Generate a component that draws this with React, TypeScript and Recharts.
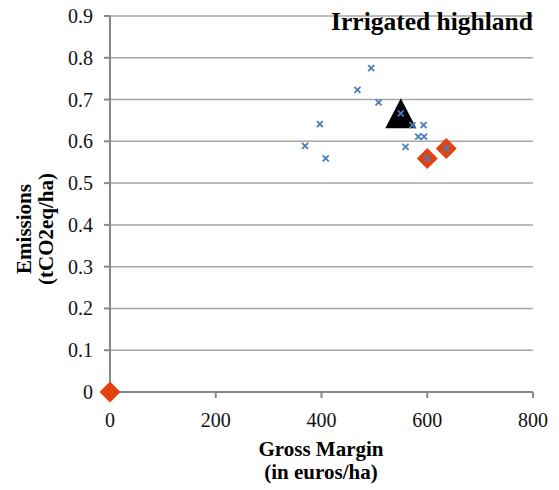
import React from 'react';
import { ScatterChart, Scatter, XAxis, YAxis, CartesianGrid, Customized } from 'recharts';

// gross margin (euros/ha) vs emissions (tCO2eq/ha)
const farmMargins = [369, 397, 408, 468, 494, 508, 550, 572, 593, 583, 594, 559, 600, 636];
const farmEmissions = [0.589, 0.641, 0.559, 0.723, 0.775, 0.693, 0.667, 0.639, 0.639, 0.611, 0.611, 0.587, 0.559, 0.583];

const frontierMargins = [0, 600, 636];
const frontierEmissions = [0, 0.559, 0.583];

const averageMargins = [550];
const averageEmissions = [0.667];

const xTicks = [0, 200, 400, 600, 800];
const yTicks = [0, 0.1, 0.2, 0.3, 0.4, 0.5, 0.6, 0.7, 0.8, 0.9];

const title = 'Irrigated highland';
const xTitle = ['Gross Margin', '(in euros/ha)'];
const yTitle = ['Emissions', '(tCO2eq/ha)'];

const toPoints = (xs: number[], ys: number[]) => xs.map((x, i) => ({ x, y: ys[i] }));

const farms = toPoints(farmMargins, farmEmissions);
const frontier = toPoints(frontierMargins, frontierEmissions);
const average = toPoints(averageMargins, averageEmissions);

const SERIF = '"Liberation Serif", "Times New Roman", serif';
const BLUE = '#4a7ebb';
const RED = '#e2420f';

const XMark = (props: any) => {
  const { cx, cy } = props;
  const r = 3;
  return (
    <g stroke={BLUE} strokeWidth={1.8}>
      <line x1={cx - r} y1={cy - r} x2={cx + r} y2={cy + r} />
      <line x1={cx - r} y1={cy + r} x2={cx + r} y2={cy - r} />
    </g>
  );
};

const Diamond = (props: any) => {
  const { cx, cy } = props;
  const r = 10.5;
  return <polygon points={`${cx},${cy - r} ${cx + r},${cy} ${cx},${cy + r} ${cx - r},${cy}`} fill={RED} />;
};

const Triangle = (props: any) => {
  const { cx, cy } = props;
  const w = 15.5, h = 15;
  return <polygon points={`${cx},${cy - h} ${cx + w},${cy + h} ${cx - w},${cy + h}`} fill="#000" />;
};

const tickText = { fontFamily: SERIF, fontSize: 20, fill: '#111' };

const XTick = (props: any) => {
  const { x, y, payload } = props;
  return (
    <text x={x} y={y + 14} textAnchor="middle" style={tickText}>
      {String(payload.value)}
    </text>
  );
};

const YTick = (props: any) => {
  const { x, y, payload } = props;
  const v = payload.value as number;
  return (
    <text x={x} y={y + 7} textAnchor="end" style={tickText}>
      {v === 0 ? '0' : v.toFixed(1)}
    </text>
  );
};

const Titles = () => (
  <g style={{ fontFamily: SERIF, fontWeight: 'bold' }} fill="#000">
    <text x={533} y={30} fontSize={25.5} textAnchor="end">{title}</text>
    <text x={321} y={456} fontSize={21} textAnchor="middle">{xTitle[0]}</text>
    <text x={321} y={479} fontSize={21} textAnchor="middle">{xTitle[1]}</text>
    <text transform="translate(31,229) rotate(-90)" fontSize={21} textAnchor="middle">{yTitle[0]}</text>
    <text transform="translate(53,229) rotate(-90)" fontSize={21} textAnchor="middle">{yTitle[1]}</text>
  </g>
);

export default function App() {
  return (
    <div style={{ position: 'absolute', left: 0, top: 0, background: '#fff', fontFamily: SERIF }}>
      <ScatterChart
        width={559}
        height={490}
        margin={{ top: 16, right: 26, left: 0, bottom: 0 }}
        style={{ fontFamily: SERIF }}
      >
        <CartesianGrid vertical={false} stroke="#a6a6a6" strokeWidth={1.5} />
        <XAxis
          type="number"
          dataKey="x"
          domain={[0, 800]}
          ticks={xTicks}
          height={98}
          tick={XTick}
          tickSize={6}
          tickMargin={15}
          axisLine={{ stroke: '#888', strokeWidth: 2 }}
          tickLine={{ stroke: '#888', strokeWidth: 2 }}
        />
        <YAxis
          type="number"
          dataKey="y"
          domain={[0, 0.9]}
          ticks={yTicks}
          width={110}
          tick={YTick}
          tickSize={6}
          tickMargin={11}
          axisLine={{ stroke: '#888', strokeWidth: 2 }}
          tickLine={{ stroke: '#888', strokeWidth: 2 }}
        />
        <Scatter data={frontier} shape={<Diamond />} isAnimationActive={false} />
        <Scatter data={average} shape={<Triangle />} isAnimationActive={false} />
        <Scatter data={farms} shape={<XMark />} isAnimationActive={false} />
        <Customized component={Titles} />
      </ScatterChart>
    </div>
  );
}
